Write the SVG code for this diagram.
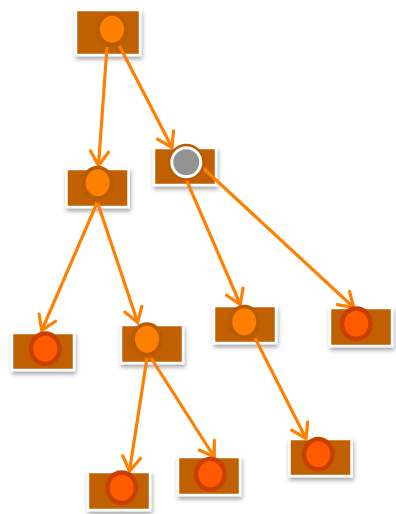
<svg xmlns="http://www.w3.org/2000/svg" width="396" height="514" viewBox="0 0 396 514">
  <style>
    .box { fill: #c06000; stroke: #ffffff; stroke-width: 2.5; filter: url(#shadow); }
    .halo { fill: #b85c00; }
    .dot { fill: #ff8000; }
    .ring { fill: #c84000; }
    .core { fill: #ff5a00; }
    .grey { fill: #939393; stroke: #ffffff; stroke-width: 3; }
    .edge { fill: none; stroke: #ff8000; stroke-width: 3.2; marker-end: url(#arrow); }
  </style>
  <defs>
    <filter id="shadow" x="-20%" y="-20%" width="140%" height="160%">
      <feDropShadow dx="1" dy="3" stdDeviation="2" flood-color="#000000" flood-opacity="0.35"/>
    </filter>
    <marker id="arrow" markerUnits="userSpaceOnUse" markerWidth="30" markerHeight="30" viewBox="-20 -15 25 30" refX="0" refY="0" orient="auto">
      <path d="M -14,-9 L 0,0 L -14,9" fill="none" stroke="#ff8000" stroke-width="3.2" stroke-linecap="round" stroke-linejoin="miter"/>
    </marker>
  </defs>

  <!-- node boxes -->
  <g id="n-root"><rect class="box" x="76" y="10" width="64" height="45"/></g>
  <g id="n-left"><rect class="box" x="66.5" y="169" width="62" height="38"/></g>
  <g id="n-grey"><rect class="box" x="154" y="148" width="62" height="37"/></g>
  <g id="n-ll"><rect class="box" x="12" y="333" width="62" height="37"/></g>
  <g id="n-lr"><rect class="box" x="121" y="325" width="62" height="38"/></g>
  <g id="n-gl"><rect class="box" x="214" y="306" width="62" height="37"/></g>
  <g id="n-gr"><rect class="box" x="330" y="308" width="62" height="38"/></g>
  <g id="n-lrl"><rect class="box" x="88" y="472" width="62" height="38"/></g>
  <g id="n-lrr"><rect class="box" x="178" y="457" width="62" height="38"/></g>
  <g id="n-gll"><rect class="box" x="289.5" y="439" width="62" height="37"/></g>

  <!-- connectors -->
  <g id="edges">
    <line class="edge" x1="107" y1="47" x2="98.5" y2="165.5"/>
    <line class="edge" x1="119.5" y1="46" x2="172" y2="147.5"/>
    <line class="edge" x1="97" y1="203" x2="41.7" y2="330.5"/>
    <line class="edge" x1="97.7" y1="203" x2="137.7" y2="322.5"/>
    <line class="edge" x1="186" y1="179" x2="240.3" y2="304.5"/>
    <line class="edge" x1="202.5" y1="167.5" x2="353.7" y2="307.5"/>
    <line class="edge" x1="147" y1="358" x2="129.5" y2="471"/>
    <line class="edge" x1="151" y1="358" x2="214.3" y2="457"/>
    <line class="edge" x1="255" y1="338" x2="306" y2="438.5"/>
  </g>

  <!-- node markers -->
  <g id="n-root-dot"><ellipse class="halo" cx="112" cy="29.3" rx="16" ry="17"/><ellipse class="dot" cx="112" cy="29.3" rx="12" ry="13.5"/></g>
  <g id="n-left-dot"><ellipse class="halo" cx="97.7" cy="182.7" rx="16" ry="17"/><ellipse class="dot" cx="97.7" cy="182.7" rx="12" ry="13.5"/></g>
  <g id="n-grey-dot"><circle class="halo" cx="186.3" cy="162.3" r="18.5"/><circle class="grey" cx="186.3" cy="162.3" r="14.5"/></g>
  <g id="n-ll-dot"><ellipse class="ring" cx="45.3" cy="348.7" rx="16.5" ry="17.5"/><ellipse class="core" cx="45.3" cy="348.7" rx="12" ry="13"/></g>
  <g id="n-lr-dot"><ellipse class="halo" cx="147" cy="339.3" rx="16" ry="17"/><ellipse class="dot" cx="147" cy="339.3" rx="12" ry="13.5"/></g>
  <g id="n-gl-dot"><ellipse class="halo" cx="244.3" cy="321.7" rx="16" ry="17"/><ellipse class="dot" cx="244.3" cy="321.7" rx="12" ry="13.5"/></g>
  <g id="n-gr-dot"><ellipse class="ring" cx="356.3" cy="323.7" rx="16.5" ry="17.5"/><ellipse class="core" cx="356.3" cy="323.7" rx="12" ry="13"/></g>
  <g id="n-lrl-dot"><ellipse class="ring" cx="121.7" cy="487.7" rx="16.5" ry="17.5"/><ellipse class="core" cx="121.7" cy="487.7" rx="12" ry="13"/></g>
  <g id="n-lrr-dot"><ellipse class="ring" cx="210.3" cy="474.3" rx="16.5" ry="17.5"/><ellipse class="core" cx="210.3" cy="474.3" rx="12" ry="13"/></g>
  <g id="n-gll-dot"><ellipse class="ring" cx="318.3" cy="454.3" rx="16.5" ry="17.5"/><ellipse class="core" cx="318.3" cy="454.3" rx="12" ry="13"/></g>
</svg>
